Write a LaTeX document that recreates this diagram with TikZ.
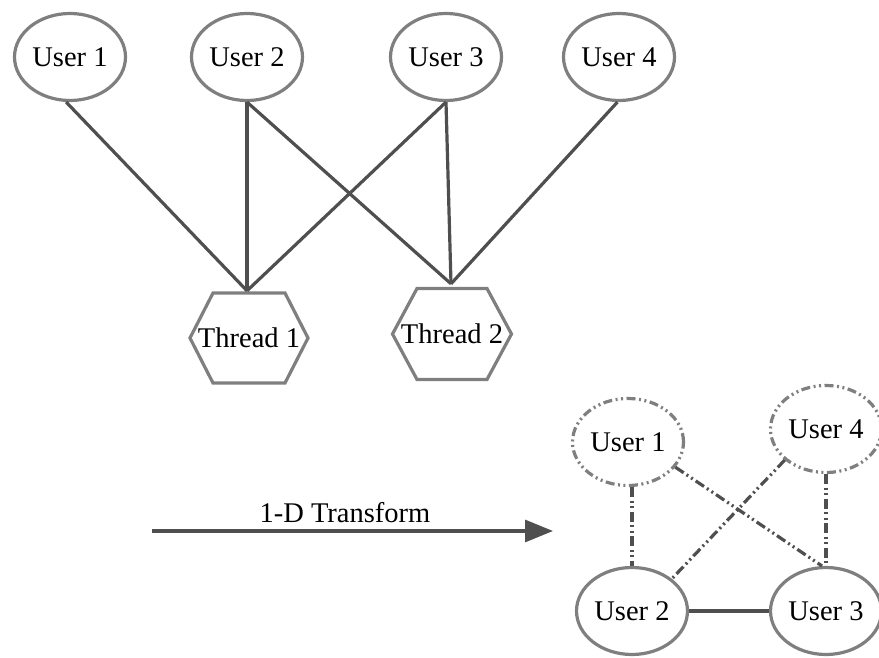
\documentclass[tikz,border=0pt]{standalone}
\usepackage{fontspec}
\setmainfont{Liberation Serif}
\usetikzlibrary{arrows.meta,calc,shapes.geometric}
\definecolor{nodegray}{HTML}{7F7F7F}
\definecolor{linegray}{HTML}{4F4F4F}
\tikzset{
  user/.style={ellipse,draw=nodegray,line width=3.2pt,minimum width=111pt,minimum height=87pt,inner sep=0pt,font=\fontsize{28.5}{33}\selectfont},
  ghost/.style={user,dash pattern=on 9pt off 3.5pt on 2pt off 3.5pt on 2pt off 3.5pt},
  hexnode/.style={minimum width=118pt,minimum height=92pt,inner sep=0pt,font=\fontsize{28.5}{33}\selectfont},
  hexline/.style={draw=nodegray,line width=3.2pt},
  link/.style={draw=linegray,line width=3.2pt},
  dlink/.style={link,dash pattern=on 10pt off 3.5pt on 2pt off 3.5pt on 2pt off 3.5pt}
}
\begin{document}
\begin{tikzpicture}[x=1pt,y=-1pt]
\useasboundingbox (0,0) rectangle (879,658);
% top users
\node[user] (u1) at (70,57) {User 1};
\node[user] (u2) at (247,57) {User 2};
\node[user] (u3) at (446,57) {User 3};
\node[user] (u4) at (619,57) {User 4};
% threads
\node[hexnode] (t1) at (249,338) {Thread 1};
\node[hexnode] (t2) at (452,334) {Thread 2};
\draw[hexline] ($(t1)+(-36,-45)$) -- ($(t1)+(36,-45)$) -- ($(t1)+(59,0)$) -- ($(t1)+(36,45)$) -- ($(t1)+(-36,45)$) -- ($(t1)+(-59,0)$) -- cycle;
\draw[hexline] ($(t2)+(-35,-45.5)$) -- ($(t2)+(35,-45.5)$) -- ($(t2)+(59.5,0)$) -- ($(t2)+(35,45.5)$) -- ($(t2)+(-35,45.5)$) -- ($(t2)+(-59.5,0)$) -- cycle;
\coordinate (t1in) at ($(t1.north)+(-2,-1)$);
\coordinate (t2in) at ($(t2.north)+(-1,-4)$);
\draw[link] (u1.-95) -- (t1in);
\draw[link] (u2.south) -- (t1in);
\draw[link] (u2.south) -- (t2in);
\draw[link] (u3.south) -- (t1in);
\draw[link] (u3.south) -- (t2in);
\draw[link] (u4.-92) -- (t2in);
% arrow
\coordinate (as) at (152,531);
\coordinate (ae) at (553,531);
\draw[link,-{Triangle[length=28pt,width=22pt]}] (as) -- (ae);
\node[font=\fontsize{28.5}{33}\selectfont] (lbl) at (345,513) {1-D Transform};
% bottom users
\node[ghost] (b1) at (628,442) {User 1};
\node[ghost] (b4) at (826,429) {User 4};
\node[user] (b2) at (632,611) {User 2};
\node[user] (b3) at (826,611) {User 3};
\draw[dlink] (b2.north |- b1.south) -- (b2.north);
\draw[dlink] (b4.south) -- (b3.north);
\draw[dlink] (b1.-28) -- (b3.95);
\draw[dlink] (b4.217) -- (b2.39);
\draw[link] (b2.east) -- (b3.west);
\end{tikzpicture}
\end{document}
